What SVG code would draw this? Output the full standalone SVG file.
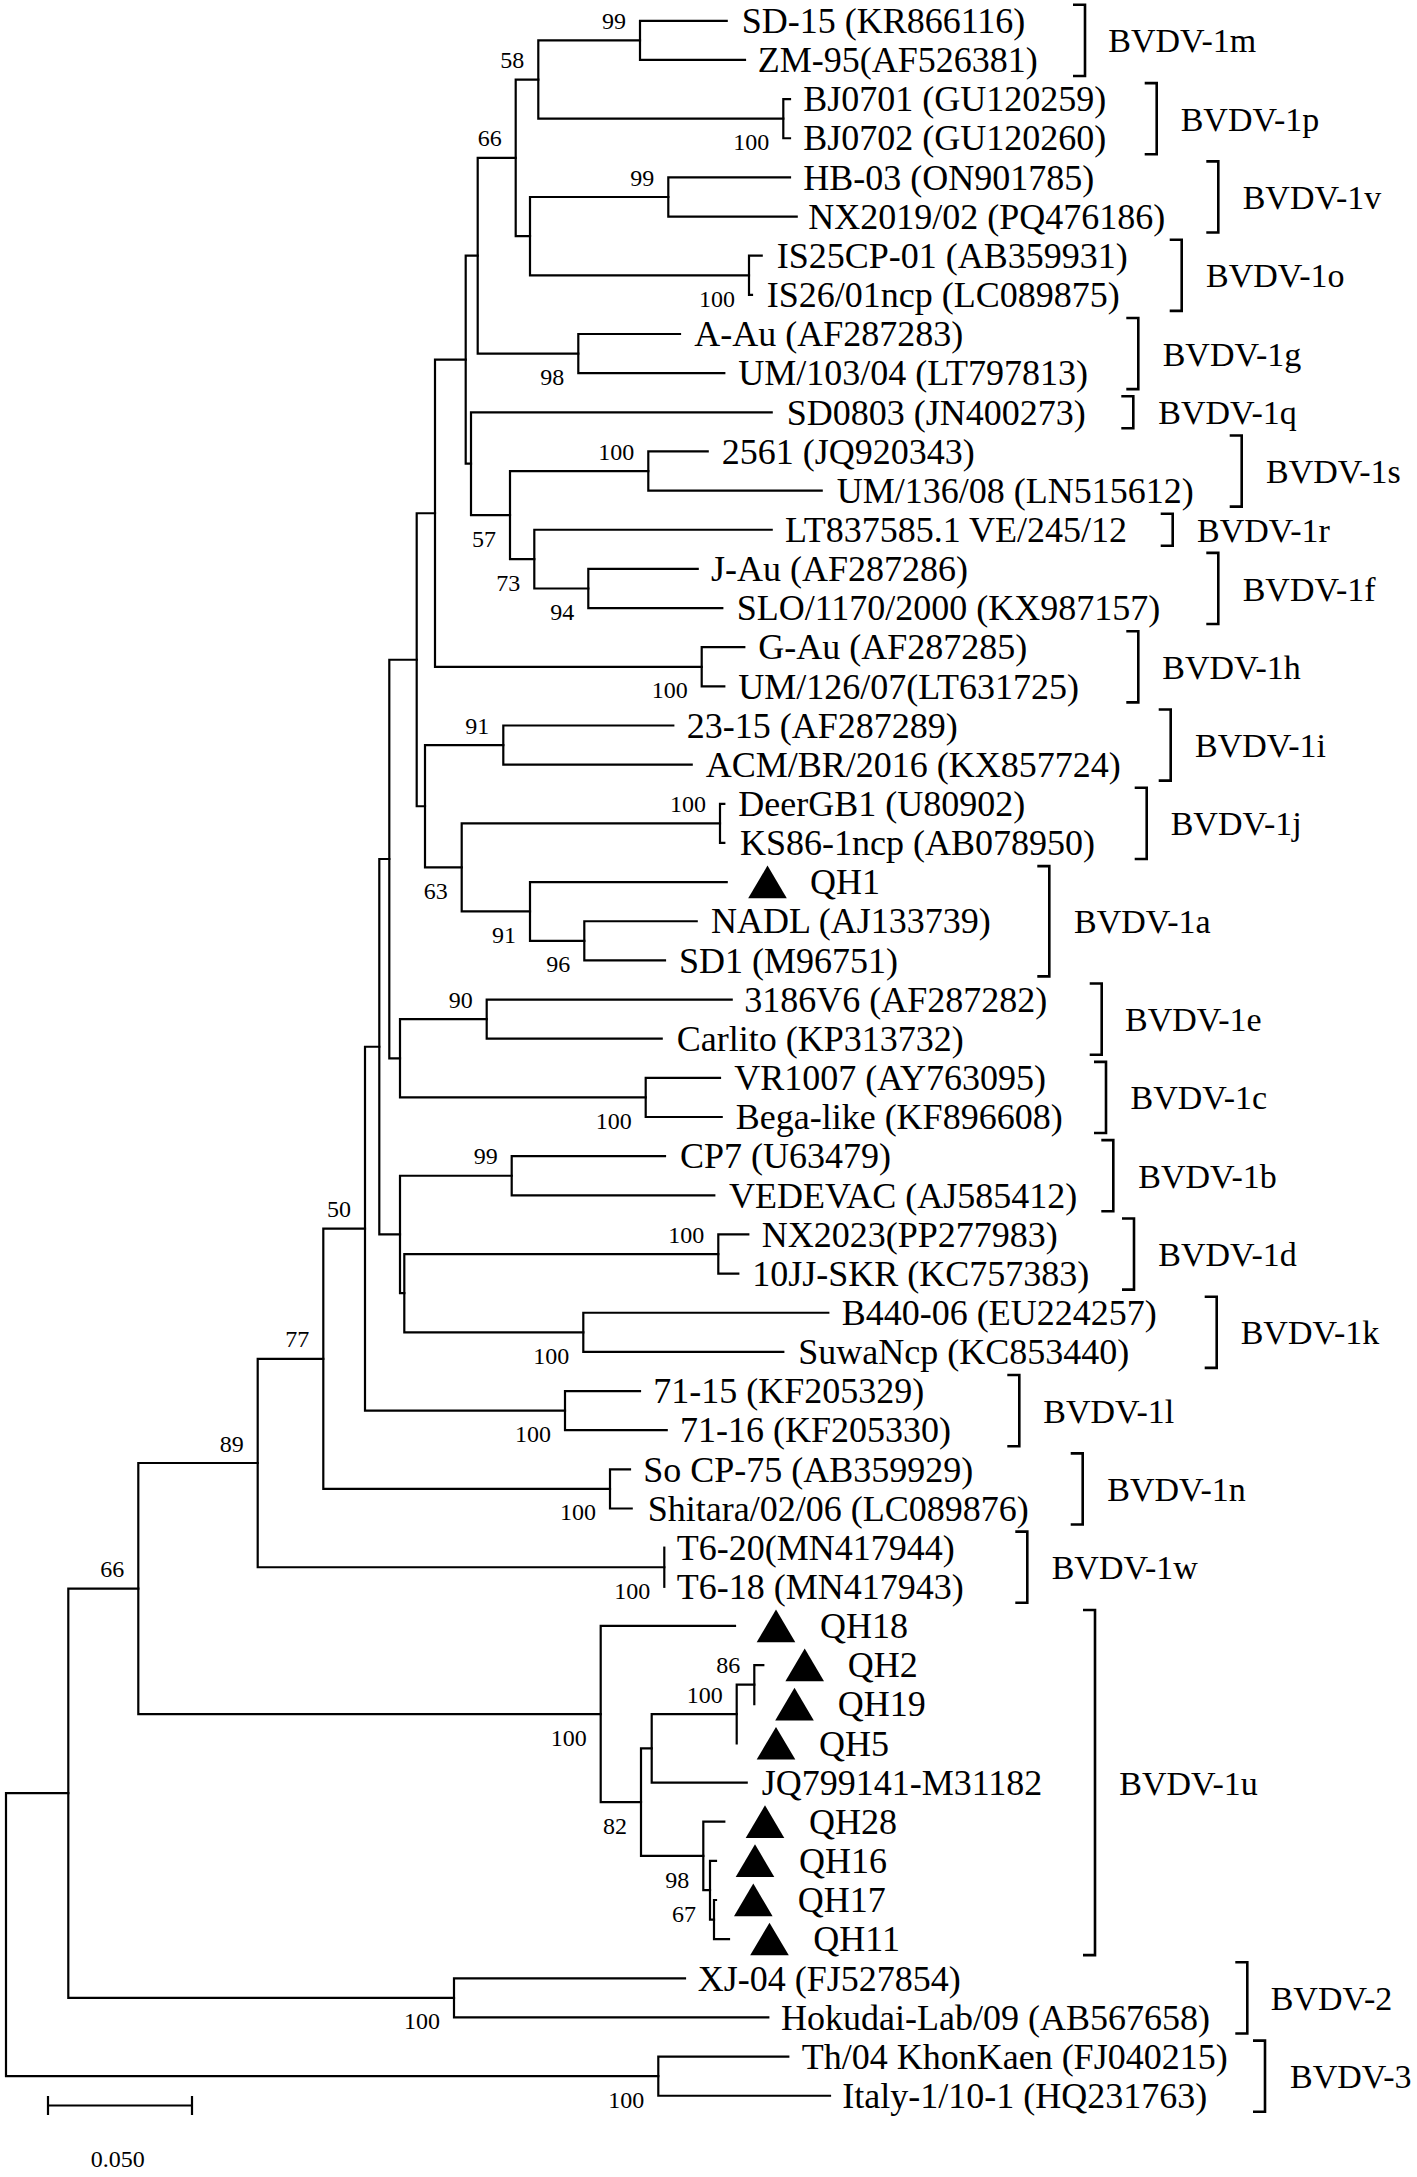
<svg xmlns="http://www.w3.org/2000/svg" xmlns:xlink="http://www.w3.org/1999/xlink" width="1417" height="2177" viewBox="0 0 1417 2177">
<style>
.br{fill:none;stroke:#000;stroke-width:2.2;stroke-linejoin:miter;stroke-linecap:square}
.bk{fill:none;stroke:#000;stroke-width:2.6}
.lf{font-family:"Liberation Serif","Times New Roman",serif;font-size:36px;fill:#000}
.cl{font-family:"Liberation Serif","Times New Roman",serif;font-size:34px;fill:#000}
.bs{font-family:"Liberation Serif","Times New Roman",serif;font-size:24px;fill:#000;text-anchor:end}
.sc{font-family:"Liberation Serif","Times New Roman",serif;font-size:24px;fill:#000}
</style>
<defs>
<path id="tri" d="M0,-16.5 L19.3,16.2 L-19.3,16.2 Z" fill="#000"/>
</defs>
<rect width="1417" height="2177" fill="#fff"/>
<g id="connectors" class="br">
<path d="M726.7 20.8 H640 V59.95 H745"/>
<path d="M790 99.1 H783.3 V138.25 H790"/>
<path d="M640 40.38 H538.3 V118.68 H783.3"/>
<path d="M790 177.4 H668.3 V216.55 H796.7"/>
<path d="M761.7 255.7 H749 V294.85 H752"/>
<path d="M668.3 196.98 H530 V275.28 H749"/>
<path d="M538.3 79.53 H515.7 V236.13 H530"/>
<path d="M680 334 H578.3 V373.15 H724.3"/>
<path d="M515.7 157.83 H477.7 V353.58 H578.3"/>
<path d="M707.7 451.45 H648.3 V490.6 H821.7"/>
<path d="M697.7 568.9 H588.3 V608.05 H722.3"/>
<path d="M771.7 529.75 H534.3 V588.48 H588.3"/>
<path d="M648.3 471.03 H510 V559.11 H534.3"/>
<path d="M771.7 412.3 H471 V515.07 H510"/>
<path d="M477.7 255.7 H465.7 V463.69 H471"/>
<path d="M744.3 647.2 H701.7 V686.35 H724.3"/>
<path d="M465.7 359.69 H435 V666.78 H701.7"/>
<path d="M673.3 725.5 H503.3 V764.65 H691.7"/>
<path d="M724.3 803.8 H720 V842.95 H724.3"/>
<path d="M696.7 921.25 H584.3 V960.4 H665"/>
<path d="M726.7 882.1 H530 V940.83 H584.3"/>
<path d="M720 823.38 H461.7 V911.46 H530"/>
<path d="M503.3 745.08 H425 V867.42 H461.7"/>
<path d="M435 513.23 H416.7 V806.25 H425"/>
<path d="M731.7 999.55 H486.7 V1038.7 H661.7"/>
<path d="M720 1077.85 H645.7 V1117 H721.7"/>
<path d="M486.7 1019.13 H400 V1097.43 H645.7"/>
<path d="M416.7 659.74 H389.3 V1058.28 H400"/>
<path d="M665 1156.15 H511.7 V1195.3 H714.3"/>
<path d="M748.3 1234.45 H718.3 V1273.6 H738.3"/>
<path d="M828.3 1312.75 H583.3 V1351.9 H783.3"/>
<path d="M718.3 1254.03 H404.3 V1332.33 H583.3"/>
<path d="M511.7 1175.73 H400 V1293.18 H404.3"/>
<path d="M389.3 859.01 H379.3 V1234.45 H400"/>
<path d="M640 1391.05 H565 V1430.2 H666.7"/>
<path d="M379.3 1046.73 H365 V1410.63 H565"/>
<path d="M630 1469.35 H610 V1508.5 H631.7"/>
<path d="M365 1228.68 H323.3 V1488.93 H610"/>
<path d="M664.3 1547.65 V1586.8"/>
<path d="M323.3 1358.8 H257.7 V1567.23 H664.3"/>
<path d="M763.3 1665.1 H754.3 V1704.25"/>
<path d="M754.3 1684.68 H736.7 V1743.4"/>
<path d="M736.7 1714.04 H651.7 V1782.55 H746.7"/>
<path d="M716 1900 H714 V1939.15 H729"/>
<path d="M716 1860.85 H710 V1919.58 H714"/>
<path d="M724.3 1821.7 H703.3 V1890.21 H710"/>
<path d="M651.7 1748.3 H641 V1855.96 H703.3"/>
<path d="M735 1625.95 H600.7 V1802.13 H641"/>
<path d="M257.7 1463.02 H138.3 V1714.04 H600.7"/>
<path d="M685 1978.3 H454 V2017.45 H768.3"/>
<path d="M138.3 1588.53 H68.3 V1997.88 H454"/>
<path d="M788.3 2056.6 H658.3 V2095.75 H830"/>
<path d="M68.3 1793.2 H6 V2076.18 H658.3"/>
</g>
<g id="leaves">
<g id="leaf1"><text class="lf" x="741.7" y="33">SD-15 (KR866116)</text></g>
<g id="leaf2"><text class="lf" x="757.7" y="72.15">ZM-95(AF526381)</text></g>
<g id="leaf3"><text class="lf" x="803.3" y="111.3">BJ0701 (GU120259)</text></g>
<g id="leaf4"><text class="lf" x="803.3" y="150.45">BJ0702 (GU120260)</text></g>
<g id="leaf5"><text class="lf" x="803.3" y="189.6">HB-03 (ON901785)</text></g>
<g id="leaf6"><text class="lf" x="808.3" y="228.75">NX2019/02 (PQ476186)</text></g>
<g id="leaf7"><text class="lf" x="776.7" y="267.9">IS25CP-01 (AB359931)</text></g>
<g id="leaf8"><text class="lf" x="766.7" y="307.05">IS26/01ncp (LC089875)</text></g>
<g id="leaf9"><text class="lf" x="694.3" y="346.2">A-Au (AF287283)</text></g>
<g id="leaf10"><text class="lf" x="738.3" y="385.35">UM/103/04 (LT797813)</text></g>
<g id="leaf11"><text class="lf" x="786.7" y="424.5">SD0803 (JN400273)</text></g>
<g id="leaf12"><text class="lf" x="721.7" y="463.65">2561 (JQ920343)</text></g>
<g id="leaf13"><text class="lf" x="836.7" y="502.8">UM/136/08 (LN515612)</text></g>
<g id="leaf14"><text class="lf" x="785" y="541.95">LT837585.1 VE/245/12</text></g>
<g id="leaf15"><text class="lf" x="711" y="581.1">J-Au (AF287286)</text></g>
<g id="leaf16"><text class="lf" x="736.7" y="620.25">SLO/1170/2000 (KX987157)</text></g>
<g id="leaf17"><text class="lf" x="758.3" y="659.4">G-Au (AF287285)</text></g>
<g id="leaf18"><text class="lf" x="738.3" y="698.55">UM/126/07(LT631725)</text></g>
<g id="leaf19"><text class="lf" x="686.7" y="737.7">23-15 (AF287289)</text></g>
<g id="leaf20"><text class="lf" x="705.7" y="776.85">ACM/BR/2016 (KX857724)</text></g>
<g id="leaf21"><text class="lf" x="738.3" y="816">DeerGB1 (U80902)</text></g>
<g id="leaf22"><text class="lf" x="740" y="855.15">KS86-1ncp (AB078950)</text></g>
<g id="leaf23"><use href="#tri" x="767.5" y="882.1"/><text class="lf" x="810" y="894.3">QH1</text></g>
<g id="leaf24"><text class="lf" x="711" y="933.45">NADL (AJ133739)</text></g>
<g id="leaf25"><text class="lf" x="679" y="972.6">SD1 (M96751)</text></g>
<g id="leaf26"><text class="lf" x="744.3" y="1011.75">3186V6 (AF287282)</text></g>
<g id="leaf27"><text class="lf" x="676.7" y="1050.9">Carlito (KP313732)</text></g>
<g id="leaf28"><text class="lf" x="734.3" y="1090.05">VR1007 (AY763095)</text></g>
<g id="leaf29"><text class="lf" x="735.7" y="1129.2">Bega-like (KF896608)</text></g>
<g id="leaf30"><text class="lf" x="680" y="1168.35">CP7 (U63479)</text></g>
<g id="leaf31"><text class="lf" x="729" y="1207.5">VEDEVAC (AJ585412)</text></g>
<g id="leaf32"><text class="lf" x="761.7" y="1246.65">NX2023(PP277983)</text></g>
<g id="leaf33"><text class="lf" x="752.3" y="1285.8">10JJ-SKR (KC757383)</text></g>
<g id="leaf34"><text class="lf" x="841.7" y="1324.95">B440-06 (EU224257)</text></g>
<g id="leaf35"><text class="lf" x="798.3" y="1364.1">SuwaNcp (KC853440)</text></g>
<g id="leaf36"><text class="lf" x="653.3" y="1403.25">71-15 (KF205329)</text></g>
<g id="leaf37"><text class="lf" x="680" y="1442.4">71-16 (KF205330)</text></g>
<g id="leaf38"><text class="lf" x="643.3" y="1481.55">So CP-75 (AB359929)</text></g>
<g id="leaf39"><text class="lf" x="647.7" y="1520.7">Shitara/02/06 (LC089876)</text></g>
<g id="leaf40"><text class="lf" x="676.7" y="1559.85">T6-20(MN417944)</text></g>
<g id="leaf41"><text class="lf" x="676.7" y="1599">T6-18 (MN417943)</text></g>
<g id="leaf42"><use href="#tri" x="776" y="1625.95"/><text class="lf" x="820" y="1638.15">QH18</text></g>
<g id="leaf43"><use href="#tri" x="804.7" y="1665.1"/><text class="lf" x="847.7" y="1677.3">QH2</text></g>
<g id="leaf44"><use href="#tri" x="794.5" y="1704.25"/><text class="lf" x="837.7" y="1716.45">QH19</text></g>
<g id="leaf45"><use href="#tri" x="776" y="1743.4"/><text class="lf" x="819" y="1755.6">QH5</text></g>
<g id="leaf46"><text class="lf" x="761.7" y="1794.75">JQ799141-M31182</text></g>
<g id="leaf47"><use href="#tri" x="765" y="1821.7"/><text class="lf" x="809" y="1833.9">QH28</text></g>
<g id="leaf48"><use href="#tri" x="755" y="1860.85"/><text class="lf" x="799" y="1873.05">QH16</text></g>
<g id="leaf49"><use href="#tri" x="753.3" y="1900"/><text class="lf" x="797.7" y="1912.2">QH17</text></g>
<g id="leaf50"><use href="#tri" x="769.5" y="1939.15"/><text class="lf" x="813.3" y="1951.35">QH11</text></g>
<g id="leaf51"><text class="lf" x="697.7" y="1990.5">XJ-04 (FJ527854)</text></g>
<g id="leaf52"><text class="lf" x="781" y="2029.65">Hokudai-Lab/09 (AB567658)</text></g>
<g id="leaf53"><text class="lf" x="801.7" y="2068.8">Th/04 KhonKaen (FJ040215)</text></g>
<g id="leaf54"><text class="lf" x="842.3" y="2107.95">Italy-1/10-1 (HQ231763)</text></g>
</g>
<g id="bootstrap">
<text class="bs" x="626" y="28.9">99</text>
<text class="bs" x="524.3" y="68">58</text>
<text class="bs" x="769.3" y="150.2">100</text>
<text class="bs" x="501.7" y="146.3">66</text>
<text class="bs" x="654.3" y="185.5">99</text>
<text class="bs" x="735" y="306.8">100</text>
<text class="bs" x="564.3" y="385.1">98</text>
<text class="bs" x="634.3" y="459.5">100</text>
<text class="bs" x="496" y="546.6">57</text>
<text class="bs" x="520.3" y="590.6">73</text>
<text class="bs" x="574.3" y="620">94</text>
<text class="bs" x="687.7" y="698.3">100</text>
<text class="bs" x="489.3" y="733.6">91</text>
<text class="bs" x="706" y="811.9">100</text>
<text class="bs" x="447.7" y="898.9">63</text>
<text class="bs" x="516" y="943">91</text>
<text class="bs" x="570.3" y="972.3">96</text>
<text class="bs" x="472.7" y="1007.6">90</text>
<text class="bs" x="631.7" y="1128.9">100</text>
<text class="bs" x="497.7" y="1164.2">99</text>
<text class="bs" x="704.3" y="1242.5">100</text>
<text class="bs" x="569.3" y="1363.8">100</text>
<text class="bs" x="551" y="1442.1">100</text>
<text class="bs" x="351" y="1217.2">50</text>
<text class="bs" x="596" y="1520.4">100</text>
<text class="bs" x="309.3" y="1347.3">77</text>
<text class="bs" x="650.3" y="1598.7">100</text>
<text class="bs" x="243.7" y="1451.5">89</text>
<text class="bs" x="124.3" y="1577">66</text>
<text class="bs" x="586.7" y="1745.5">100</text>
<text class="bs" x="627" y="1833.6">82</text>
<text class="bs" x="689.3" y="1887.5">98</text>
<text class="bs" x="696" y="1921.7">67</text>
<text class="bs" x="722.7" y="1702.5">100</text>
<text class="bs" x="740.3" y="1673.2">86</text>
<text class="bs" x="440" y="2029.4">100</text>
<text class="bs" x="644.3" y="2107.7">100</text>
</g>
<g id="clades">
<g id="c1m"><path class="bk" d="M1073 4.8 H1085 V75.95 H1073"/><text class="cl" x="1108.3" y="52.4">BVDV-1m</text></g>
<g id="c1p"><path class="bk" d="M1144.7 83.1 H1156.7 V154.25 H1144.7"/><text class="cl" x="1180.7" y="130.7">BVDV-1p</text></g>
<g id="c1v"><path class="bk" d="M1206.3 161.4 H1218.3 V232.55 H1206.3"/><text class="cl" x="1242.7" y="209">BVDV-1v</text></g>
<g id="c1o"><path class="bk" d="M1169.7 239.7 H1181.7 V310.85 H1169.7"/><text class="cl" x="1206" y="287.3">BVDV-1o</text></g>
<g id="c1g"><path class="bk" d="M1126.3 318 H1138.3 V389.15 H1126.3"/><text class="cl" x="1162.7" y="365.6">BVDV-1g</text></g>
<g id="c1q"><path class="bk" d="M1121.3 396.3 H1133.3 V428.3 H1121.3"/><text class="cl" x="1158.3" y="424.3">BVDV-1q</text></g>
<g id="c1s"><path class="bk" d="M1229.7 435.45 H1241.7 V506.6 H1229.7"/><text class="cl" x="1266" y="483">BVDV-1s</text></g>
<g id="c1r"><path class="bk" d="M1160.7 513.75 H1172.7 V545.75 H1160.7"/><text class="cl" x="1197" y="541.75">BVDV-1r</text></g>
<g id="c1f"><path class="bk" d="M1206.3 552.9 H1218.3 V624.05 H1206.3"/><text class="cl" x="1242.7" y="600.5">BVDV-1f</text></g>
<g id="c1h"><path class="bk" d="M1126.3 631.2 H1138.3 V702.35 H1126.3"/><text class="cl" x="1162.3" y="678.8">BVDV-1h</text></g>
<g id="c1i"><path class="bk" d="M1158.7 709.5 H1170.7 V780.65 H1158.7"/><text class="cl" x="1195" y="757.1">BVDV-1i</text></g>
<g id="c1j"><path class="bk" d="M1134.7 787.8 H1146.7 V858.95 H1134.7"/><text class="cl" x="1170.7" y="835.4">BVDV-1j</text></g>
<g id="c1a"><path class="bk" d="M1037.3 866.1 H1049.3 V976.4 H1037.3"/><text class="cl" x="1074" y="933.25">BVDV-1a</text></g>
<g id="c1e"><path class="bk" d="M1089.7 983.55 H1101.7 V1054.7 H1089.7"/><text class="cl" x="1125" y="1031.1">BVDV-1e</text></g>
<g id="c1c"><path class="bk" d="M1094 1061.85 H1106 V1133 H1094"/><text class="cl" x="1130.5" y="1109.4">BVDV-1c</text></g>
<g id="c1b"><path class="bk" d="M1101.3 1140.15 H1113.3 V1211.3 H1101.3"/><text class="cl" x="1138.3" y="1187.7">BVDV-1b</text></g>
<g id="c1d"><path class="bk" d="M1122 1218.45 H1134 V1289.6 H1122"/><text class="cl" x="1158.3" y="1266">BVDV-1d</text></g>
<g id="c1k"><path class="bk" d="M1204.7 1296.75 H1216.7 V1367.9 H1204.7"/><text class="cl" x="1240.7" y="1344.3">BVDV-1k</text></g>
<g id="c1l"><path class="bk" d="M1007.3 1375.05 H1019.3 V1446.2 H1007.3"/><text class="cl" x="1043.3" y="1422.6">BVDV-1l</text></g>
<g id="c1n"><path class="bk" d="M1070.7 1453.35 H1082.7 V1524.5 H1070.7"/><text class="cl" x="1107.3" y="1500.9">BVDV-1n</text></g>
<g id="c1w"><path class="bk" d="M1015.3 1531.65 H1027.3 V1602.8 H1015.3"/><text class="cl" x="1051.7" y="1579.2">BVDV-1w</text></g>
<g id="c1u"><path class="bk" d="M1083 1609.95 H1095 V1955.15 H1083"/><text class="cl" x="1119.3" y="1794.6">BVDV-1u</text></g>
<g id="c2"><path class="bk" d="M1235.3 1962.3 H1247.3 V2033.45 H1235.3"/><text class="cl" x="1270.7" y="2009.9">BVDV-2</text></g>
<g id="c3"><path class="bk" d="M1253 2040.6 H1265 V2111.75 H1253"/><text class="cl" x="1290" y="2088.2">BVDV-3</text></g>
</g>
<g id="scalebar">
<path class="br" d="M48 2105.5 H192 M48 2097 V2114 M192 2097 V2114"/>
<text class="sc" x="90.7" y="2167">0.050</text>
</g>
</svg>
